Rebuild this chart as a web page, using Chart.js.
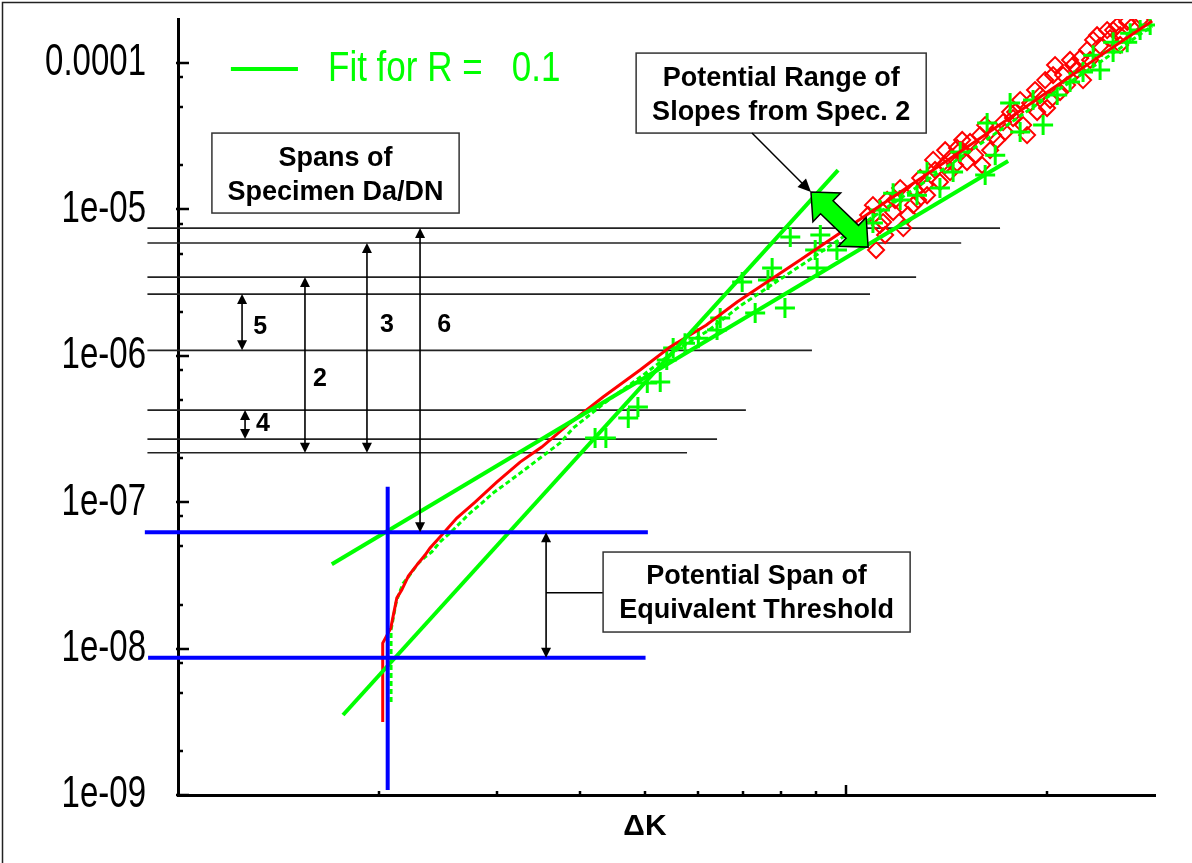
<!DOCTYPE html>
<html>
<head>
<meta charset="utf-8">
<title>da/dN vs ΔK</title>
<script src="https://cdn.jsdelivr.net/npm/chart.js@4.4.0/dist/chart.umd.min.js"></script>
<style>
  html, body { margin: 0; padding: 0; background: #fff; }
</style>
</head>
<body>
<canvas id="chart" width="1192" height="863"></canvas>
<script>
// ---- values: x = ΔK, y = da/dN ----

// red fitted curve
const redCurveK = [2.025, 2.025, 2.082, 2.101, 2.126, 2.162, 2.212, 2.277, 2.343, 2.384, 2.467, 2.614, 2.784, 3.000, 3.251, 3.503, 3.863, 4.328, 4.916, 5.452, 6.172, 6.869, 7.615, 8.535, 9.694, 11.24, 13.36, 15.87, 19.52, 24.00, 28.72];
const redCurveRate = [3.15e-9, 1.09e-8, 1.38e-8, 1.70e-8, 2.22e-8, 2.51e-8, 3.13e-8, 3.72e-8, 4.36e-8, 4.87e-8, 5.79e-8, 7.80e-8, 1.00e-7, 1.37e-7, 1.88e-7, 2.38e-7, 3.48e-7, 5.23e-7, 8.00e-7, 1.15e-6, 1.62e-6, 2.33e-6, 3.19e-6, 4.51e-6, 6.69e-6, 1.06e-5, 1.80e-5, 3.07e-5, 5.86e-5, 1.12e-4, 1.94e-4];

// green fit curve (R = 0.1)
const greenCurveK = [2.084, 2.084, 2.101, 2.120, 2.144, 2.174, 2.212, 2.250, 2.290, 2.343, 2.398, 2.467, 2.554, 2.643, 2.736, 2.849, 2.965, 3.105, 3.251, 3.403, 3.564, 3.731, 3.903, 4.370, 4.968, 5.510, 6.236, 6.940, 7.695, 8.624, 9.795, 11.36, 13.50, 16.04, 19.72, 24.25, 28.72];
const greenCurveRate = [4.32e-9, 1.34e-8, 1.64e-8, 2.05e-8, 2.40e-8, 2.81e-8, 3.08e-8, 3.44e-8, 3.84e-8, 4.22e-8, 4.57e-8, 5.35e-8, 6.16e-8, 7.21e-8, 8.44e-8, 9.87e-8, 1.16e-7, 1.35e-7, 1.58e-7, 1.85e-7, 2.17e-7, 2.54e-7, 3.21e-7, 4.84e-7, 7.39e-7, 1.06e-6, 1.50e-6, 2.19e-6, 3.00e-6, 4.24e-6, 6.28e-6, 9.91e-6, 1.69e-5, 2.89e-5, 5.59e-5, 1.05e-4, 1.79e-4];

// specimen data, green crosses
const plusK = [4.21, 4.37, 4.72, 4.88, 5.04, 5.27, 5.39, 5.51, 5.74, 6.01, 6.41, 6.48, 6.99, 7.31, 7.64, 7.75, 8.10, 8.25, 8.99, 9.05, 9.15, 9.69, 10.97, 11.24, 11.76, 12.05, 12.77, 13.22, 13.82, 14.46, 14.82, 16.15, 16.72, 16.26, 17.60, 18.22, 19.72, 19.05, 20.70, 21.64, 22.63, 24.00, 23.43, 25.10, 26.35, 27.55, 28.52, 26.62, 25.10];
const plusRate = [2.75e-7, 2.75e-7, 3.76e-7, 4.47e-7, 6.52e-7, 6.62e-7, 9.36e-7, 1.13e-6, 1.22e-6, 1.32e-6, 1.50e-6, 1.81e-6, 3.19e-6, 1.96e-6, 3.30e-6, 3.98e-6, 2.12e-6, 6.48e-6, 5.28e-6, 3.98e-6, 6.69e-6, 5.28e-6, 8.07e-6, 9.91e-6, 1.29e-5, 1.16e-5, 1.25e-5, 1.80e-5, 1.40e-5, 1.80e-5, 2.47e-5, 1.72e-5, 2.35e-5, 3.89e-5, 5.33e-5, 3.38e-5, 3.77e-5, 5.59e-5, 6.04e-5, 7.42e-5, 8.68e-5, 8.96e-5, 1.13e-4, 1.19e-4, 1.39e-4, 1.68e-4, 1.82e-4, 1.60e-4, 1.39e-4];

// specimen data, red open diamonds
const diamondK = [11.09, 10.97, 11.36, 11.76, 12.05, 12.18, 12.60, 12.91, 13.22, 13.59, 13.82, 14.31, 14.66, 15.17, 15.33, 15.87, 15.98, 16.43, 16.83, 17.18, 17.91, 18.41, 18.86, 19.52, 19.99, 20.41, 20.91, 21.42, 21.87, 22.40, 22.95, 23.43, 24.00, 24.59, 25.45, 26.35, 24.84, 22.63, 19.32, 18.66, 14.31, 11.52, 11.24, 21.64, 19.86, 17.78, 14.82, 14.07, 12.69, 25.72,
  10.79, 11.44, 11.84, 12.38, 12.82, 13.13, 13.50, 14.07, 14.56, 14.92, 15.60, 16.15, 16.60, 17.30, 17.60, 18.22, 19.18, 20.20, 20.55, 21.13, 22.17, 23.19, 23.75, 25.10, 26.90, 27.55, 25.72];
const diamondRate = [5.28e-6, 1.07e-5, 8.20e-6, 9.60e-6, 1.40e-5, 7.46e-6, 1.07e-5, 1.64e-5, 1.25e-5, 1.86e-5, 1.54e-5, 2.24e-5, 2.63e-5, 2.11e-5, 2.89e-5, 3.22e-5, 2.01e-5, 2.54e-5, 2.98e-5, 3.95e-5, 4.63e-5, 3.77e-5, 5.33e-5, 6.04e-5, 4.93e-5, 8.28e-5, 6.34e-5, 7.07e-5, 9.69e-5, 1.08e-4, 1.23e-4, 1.44e-4, 1.31e-4, 1.68e-4, 1.79e-4, 1.91e-4, 1.48e-4, 7.65e-5, 4.63e-5, 3.22e-5, 1.80e-5, 1.16e-5, 7.82e-6, 1.05e-4, 7.65e-5, 4.21e-5, 2.54e-5, 2.01e-5, 1.36e-5, 1.55e-4,
  9.16e-6, 6.69e-6, 1.16e-5, 9.16e-6, 1.16e-5, 1.47e-5, 2.18e-5, 2.54e-5, 2.01e-5, 2.98e-5, 2.35e-5, 3.77e-5, 3.22e-5, 3.38e-5, 4.63e-5, 5.59e-5, 6.54e-5, 5.59e-5, 9.69e-5, 8.28e-5, 8.96e-5, 1.05e-4, 1.55e-4, 1.68e-4, 1.82e-4, 1.97e-4, 1.33e-4];

// straight power-law fits (end points)
const steepFitK = [1.766, 9.728];
const steepFitRate = [3.52e-9, 1.858e-5];
const shallowFitK = [1.699, 17.48];
const shallowFitRate = [3.765e-8, 2.141e-5];

// da/dN levels spanned by each specimen, and where each level line stops
const spanLevels = [7.46e-6, 5.90e-6, 3.45e-6, 2.64e-6, 1.09e-6, 4.26e-7, 2.70e-7, 2.18e-7];
const spanEndK = [17.0, 14.87, 12.73, 10.86, 8.89, 7.08, 6.41, 5.78];
const spanStartK = 0.9;

// equivalent threshold lines (blue)
const thresholdLevels = [6.23e-8, 8.67e-9];
const thresholdStartK = [0.892, 0.902];
const thresholdEndK = [5.05, 5.01];
const thresholdK = 2.06;
const thresholdKRate = [1.08e-9, 1.277e-7];

// axes
const yMajorTicks = [1e-9, 1e-8, 1e-7, 1e-6, 1e-5, 1e-4];
const yTickLabels = ['1e-09', '1e-08', '1e-07', '1e-06', '1e-05', '0.0001'];
const yMinorTicks = [2e-9, 5e-9, 8e-9, 2e-8, 5e-8, 8e-8, 2e-7, 5e-7, 8e-7, 2e-6, 5e-6, 8e-6, 2e-5, 5e-5, 8e-5];
const xMajorTicks = [10];
const xMinorTicks = [2, 3, 4, 5, 6, 7, 8, 9, 20];

const legendLabel = 'Fit for R =   0.1';

// ---- annotation layout (placed in data coordinates) ----
const spanArrows = [
  { k: 1.247, top: 2.64e-6, bottom: 1.09e-6, label: '5', labelK: 1.327, labelRate: 1.573e-6 },
  { k: 1.260, top: 4.26e-7, bottom: 2.70e-7, label: '4', labelK: 1.340, labelRate: 3.42e-7 },
  { k: 1.549, top: 3.45e-6, bottom: 2.18e-7, label: '2', labelK: 1.631, labelRate: 6.94e-7 },
  { k: 1.918, top: 5.90e-6, bottom: 2.18e-7, label: '3', labelK: 2.055, labelRate: 1.623e-6 },
  { k: 2.303, top: 7.46e-6, bottom: 6.23e-8, label: '6', labelK: 2.502, labelRate: 1.623e-6 },
  { k: 3.556, top: 6.23e-8, bottom: 8.67e-9, label: '', labelK: 0, labelRate: 0 },
];

const noteBoxes = [
  { k: [1.124, 2.635], rate: [3.325e-5, 9.45e-6], lines: ['Spans of', 'Specimen Da/DN'] },
  { k: [4.85, 13.18], rate: [1.17e-4, 3.325e-5], lines: ['Potential Range of', 'Slopes from Spec. 2'] },
  { k: [4.328, 12.47], rate: [4.568e-8, 1.298e-8], lines: ['Potential Span of', 'Equivalent Threshold'] },
];

const FONT = '"Liberation Sans", Arial, Helvetica, sans-serif';
const GREEN = '#00ff00';
const RED = '#ff0000';
const BLUE = '#0000ff';

// Helpers
function toPoints(xs, ys) {
  return xs.map((v, i) => ({ x: v, y: ys[i] }));
}

function arrowHead(ctx, x, y, dx, dy, len, half) {
  const l = Math.hypot(dx, dy);
  const ux = dx / l, uy = dy / l;
  const bx = x - ux * len, by = y - uy * len;
  ctx.beginPath();
  ctx.moveTo(x, y);
  ctx.lineTo(bx - uy * half, by + ux * half);
  ctx.lineTo(bx + uy * half, by - ux * half);
  ctx.closePath();
  ctx.fill();
}

function stretchedText(ctx, text, x, y, sy) {
  ctx.save();
  ctx.translate(x, y);
  ctx.scale(1, sy);
  ctx.fillText(text, 0, 0);
  ctx.restore();
}

function lineSet(data, color, width, extra) {
  return Object.assign({
    data: data,
    showLine: true,
    borderColor: color,
    backgroundColor: color,
    borderWidth: width,
    pointRadius: 0,
    clip: false,
  }, extra || {});
}

// Build datasets (first one ends up drawn on top)
const datasets = [];

thresholdLevels.forEach((lvl, i) => {
  datasets.push(lineSet([{ x: thresholdStartK[i], y: lvl }, { x: thresholdEndK[i], y: lvl }], BLUE, 4));
});
datasets.push(lineSet([{ x: thresholdK, y: thresholdKRate[0] }, { x: thresholdK, y: thresholdKRate[1] }], BLUE, 4));

datasets.push(lineSet(toPoints(steepFitK, steepFitRate), GREEN, 4));
datasets.push(lineSet(toPoints(shallowFitK, shallowFitRate), GREEN, 4));

datasets.push(lineSet(toPoints(redCurveK, redCurveRate), RED, 3));
datasets.push(lineSet(toPoints(greenCurveK, greenCurveRate), GREEN, 3, { borderDash: [5, 3] }));

datasets.push({
  data: toPoints(plusK, plusRate),
  showLine: false,
  pointStyle: 'cross',
  pointRadius: 10,
  borderColor: GREEN,
  backgroundColor: GREEN,
  pointBorderWidth: 3,
});

datasets.push({
  data: toPoints(diamondK, diamondRate),
  showLine: false,
  pointStyle: 'rectRot',
  pointRadius: 8,
  borderColor: RED,
  backgroundColor: 'rgba(0,0,0,0)',
  pointBorderWidth: 2,
});

spanLevels.forEach((lvl, i) => {
  datasets.push(lineSet([{ x: spanStartK, y: lvl }, { x: spanEndK[i], y: lvl }], '#222', 1.6));
});

// Annotations, ticks, labels and legend drawn on top of the chart
const decorPlugin = {
  id: 'decor',
  afterDraw(chart) {
    const { ctx, chartArea: area } = chart;
    const xs = chart.scales.x, ys = chart.scales.y;
    const X = (v) => xs.getPixelForValue(v);
    const Y = (v) => ys.getPixelForValue(v);
    ctx.save();

    // outer frame (only top and left edges visible)
    ctx.strokeStyle = '#222';
    ctx.lineWidth = 1.5;
    ctx.beginPath();
    ctx.moveTo(2.5, chart.height);
    ctx.lineTo(2.5, 2.5);
    ctx.lineTo(chart.width, 2.5);
    ctx.stroke();

    // tick marks point into the plot
    ctx.strokeStyle = '#000';
    ctx.lineWidth = 2.5;
    ctx.beginPath();
    yMajorTicks.forEach((v) => {
      const p = Math.round(Y(v));
      ctx.moveTo(area.left - 2, p);
      ctx.lineTo(area.left + 11, p);
    });
    yMinorTicks.forEach((v) => {
      const p = Math.round(Y(v));
      ctx.moveTo(area.left - 1, p);
      ctx.lineTo(area.left + 5, p);
    });
    xMajorTicks.forEach((v) => {
      const p = Math.round(X(v));
      ctx.moveTo(p, area.bottom + 1);
      ctx.lineTo(p, area.bottom - 10);
    });
    xMinorTicks.forEach((v) => {
      const p = Math.round(X(v));
      ctx.moveTo(p, area.bottom + 1);
      ctx.lineTo(p, area.bottom - 4);
    });
    ctx.stroke();

    // y tick labels: tall, narrow glyphs as in the original
    ctx.fillStyle = '#000';
    ctx.font = '33px ' + FONT;
    ctx.textAlign = 'right';
    ctx.textBaseline = 'middle';
    yMajorTicks.forEach((v, i) => {
      stretchedText(ctx, yTickLabels[i], area.left - 32, Y(v), 1.35);
    });

    // x axis title
    ctx.font = 'bold 30px ' + FONT;
    ctx.textAlign = 'center';
    ctx.fillText('ΔK', X(5.0), area.bottom + 32);

    // legend
    ctx.strokeStyle = GREEN;
    ctx.lineWidth = 4;
    ctx.beginPath();
    ctx.moveTo(X(1.20), Y(9.1e-5));
    ctx.lineTo(X(1.512), Y(9.1e-5));
    ctx.stroke();
    ctx.fillStyle = GREEN;
    ctx.font = '35px ' + FONT;
    ctx.textAlign = 'left';
    stretchedText(ctx, legendLabel, X(1.677), Y(9.1e-5), 1.2);

    // vertical span arrows with their numbers
    ctx.strokeStyle = '#000';
    ctx.fillStyle = '#000';
    ctx.lineWidth = 1.6;
    spanArrows.forEach((a) => {
      const ax = X(a.k), y1 = Y(a.top), y2 = Y(a.bottom);
      ctx.beginPath();
      ctx.moveTo(ax, y1 + 6);
      ctx.lineTo(ax, y2 - 6);
      ctx.stroke();
      arrowHead(ctx, ax, y1, 0, -1, 10, 5);
      arrowHead(ctx, ax, y2, 0, 1, 10, 5);
      if (a.label) {
        ctx.font = 'bold 25px ' + FONT;
        ctx.textAlign = 'center';
        ctx.textBaseline = 'middle';
        ctx.fillText(a.label, X(a.labelK), Y(a.labelRate));
      }
    });

    // connector from threshold arrow to its box
    ctx.beginPath();
    ctx.moveTo(X(3.556), Y(2.41e-8));
    ctx.lineTo(X(4.328), Y(2.41e-8));
    ctx.stroke();

    // text boxes
    noteBoxes.forEach((b) => {
      const x1 = X(b.k[0]), x2 = X(b.k[1]);
      const y1 = Y(b.rate[0]), y2 = Y(b.rate[1]);
      ctx.fillStyle = '#fff';
      ctx.fillRect(x1, y1, x2 - x1, y2 - y1);
      ctx.strokeStyle = '#333';
      ctx.lineWidth = 1.5;
      ctx.strokeRect(x1, y1, x2 - x1, y2 - y1);
      ctx.fillStyle = '#000';
      ctx.font = 'bold 27px ' + FONT;
      ctx.textAlign = 'center';
      ctx.textBaseline = 'middle';
      const cx = (x1 + x2) / 2, cy = (y1 + y2) / 2;
      ctx.fillText(b.lines[0], cx, cy - 15);
      ctx.fillText(b.lines[1], cx, cy + 19);
    });

    // callout from the slope box to the block arrow
    const c1x = X(7.23), c1y = Y(3.325e-5);
    const c2x = X(8.86), c2y = Y(1.315e-5);
    ctx.strokeStyle = '#000';
    ctx.fillStyle = '#000';
    ctx.lineWidth = 1.5;
    ctx.beginPath();
    ctx.moveTo(c1x, c1y);
    ctx.lineTo(c2x - (c2x - c1x) * 0.12, c2y - (c2y - c1y) * 0.12);
    ctx.stroke();
    arrowHead(ctx, c2x, c2y, c2x - c1x, c2y - c1y, 13, 6);

    // green double-headed block arrow between the two fit slopes
    const p1x = X(8.86), p1y = Y(1.315e-5);
    const p2x = X(10.79), p2y = Y(5.53e-6);
    const L = Math.hypot(p2x - p1x, p2y - p1y);
    const ux = (p2x - p1x) / L, uy = (p2y - p1y) / L;
    const nx = -uy, ny = ux;
    const hl = 22, hh = 20, sh = 9;
    const pt = (bx, by, a, b) => [bx + ux * a + nx * b, by + uy * a + ny * b];
    const shape = [
      [p1x, p1y],
      pt(p1x, p1y, hl, hh), pt(p1x, p1y, hl, sh),
      pt(p2x, p2y, -hl, sh), pt(p2x, p2y, -hl, hh),
      [p2x, p2y],
      pt(p2x, p2y, -hl, -hh), pt(p2x, p2y, -hl, -sh),
      pt(p1x, p1y, hl, -sh), pt(p1x, p1y, hl, -hh),
    ];
    ctx.beginPath();
    shape.forEach((p, i) => (i ? ctx.lineTo(p[0], p[1]) : ctx.moveTo(p[0], p[1])));
    ctx.closePath();
    ctx.fillStyle = GREEN;
    ctx.fill();
    ctx.strokeStyle = '#000';
    ctx.lineWidth = 1.5;
    ctx.stroke();

    ctx.restore();
  },
};

new Chart(document.getElementById('chart'), {
  type: 'scatter',
  data: { datasets: datasets },
  options: {
    responsive: false,
    animation: false,
    events: [],
    layout: { autoPadding: false, padding: { top: 19, right: 37, left: 0, bottom: 0 } },
    plugins: { legend: { display: false }, tooltip: { enabled: false } },
    scales: {
      x: {
        type: 'logarithmic',
        min: 1,
        max: 29,
        ticks: { display: false },
        grid: { display: false },
        border: { color: '#000', width: 3 },
        afterFit(scale) { scale.height = 68; },
      },
      y: {
        type: 'logarithmic',
        min: 1e-9,
        max: 2e-4,
        ticks: { display: false },
        grid: { display: false },
        border: { color: '#000', width: 3 },
        afterFit(scale) { scale.width = 178; },
      },
    },
  },
  plugins: [decorPlugin],
});
</script>
</body>
</html>
